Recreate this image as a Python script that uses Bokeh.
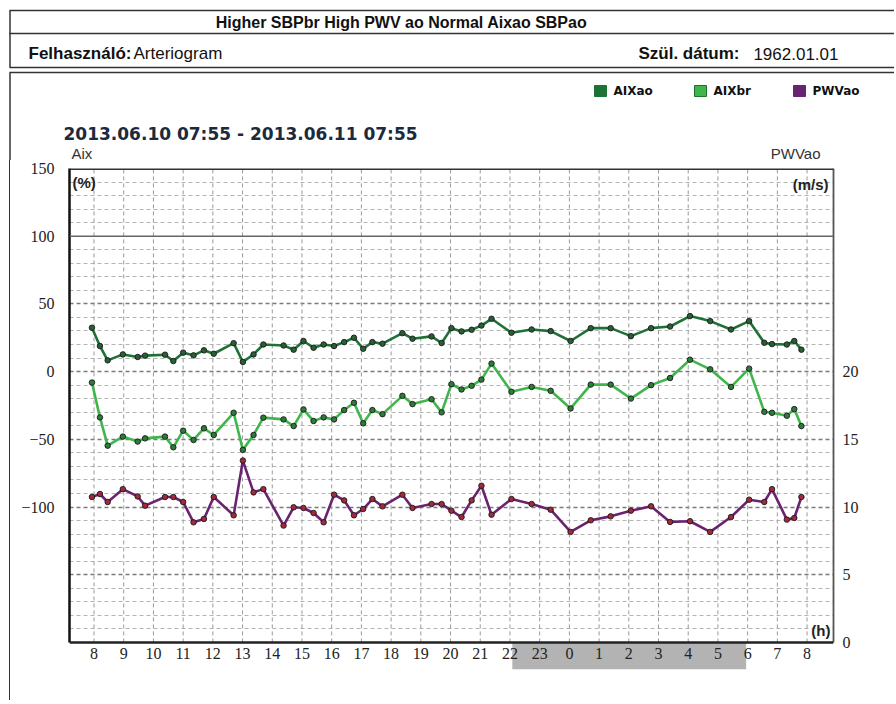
from bokeh.plotting import figure
from bokeh.models import (Range1d, LinearAxis, FixedTicker, Span, Label, Grid, Spacer)
from bokeh.layouts import column, row
from bokeh.embed import file_html
from bokeh.resources import INLINE
from bokeh.core.properties import value

# ---------------- data ----------------
# time of each measurement in hours since 00:00 of 2013.06.10 (24+ = next day)
times = [7.93, 8.20, 8.46, 8.97, 9.47, 9.72, 10.39, 10.67, 11.00, 11.35, 11.70, 12.03,
         12.70, 13.01, 13.37, 13.70, 14.38, 14.72, 15.05, 15.39, 15.73, 16.08, 16.42,
         16.75, 17.06, 17.37, 17.71, 18.38, 18.72, 19.36, 19.70, 20.03, 20.37, 20.71,
         21.04, 21.38, 22.05, 22.73, 23.37, 24.04, 24.72, 25.39, 26.07, 26.75, 27.39,
         28.06, 28.74, 29.44, 30.05, 30.56, 30.82, 31.32, 31.57, 31.81]
aix_ao = [32.4, 18.9, 8.3, 12.7, 10.8, 11.8, 12.5, 7.8, 14.0, 12.0, 15.7, 13.2, 21.0, 7.1,
          12.7, 20.0, 19.3, 16.2, 22.6, 17.6, 20.0, 18.9, 21.8, 25.0, 16.9, 21.8, 20.6,
          28.4, 24.3, 26.0, 21.1, 32.1, 29.7, 30.9, 34.0, 39.0, 28.7, 31.1, 29.9, 22.6,
          32.1, 32.1, 26.2, 32.1, 33.3, 41.0, 37.3, 31.1, 37.3, 21.3, 20.3, 20.0, 22.6, 16.2]
aix_br = [-8.1, -33.8, -54.7, -48.0, -51.7, -49.3, -48.0, -55.9, -43.6, -50.5, -41.9, -46.8,
          -30.4, -57.8, -46.8, -34.0, -35.3, -40.2, -27.9, -36.5, -33.8, -35.3, -28.4, -23.0,
          -38.2, -28.4, -31.4, -17.9, -24.0, -20.4, -30.1, -9.3, -13.2, -10.5, -5.9, 5.9,
          -14.9, -11.3, -14.2, -27.2, -9.6, -9.6, -19.9, -10.0, -4.7, 8.8, 1.7, -11.3, 2.2,
          -29.7, -30.4, -32.6, -27.7, -40.2]
pwv_ao = [10.74, 10.96, 10.37, 11.32, 10.78, 10.10, 10.74, 10.74, 10.37, 8.87, 9.12, 10.74,
          9.39, 13.43, 11.08, 11.32, 8.63, 9.98, 9.93, 9.56, 8.87, 10.91, 10.49, 9.39, 9.85,
          10.59, 10.05, 10.91, 9.93, 10.22, 10.22, 9.73, 9.26, 10.49, 11.57, 9.43, 10.59,
          10.22, 9.80, 8.16, 9.02, 9.31, 9.73, 10.05, 8.90, 8.95, 8.16, 9.26, 10.54, 10.37,
          11.32, 9.07, 9.19, 10.74]

series_names = ["AIXao", "AIXbr", "PWVao"]
series_colors = ["#1e7236", "#3fb64b", "#6a2371"]
legend_borders = ["#1e7236", "#22702e", "#6a2371"]
marker_fills = ["#2b5e36", "#2f7a3a", "#a3283a"]

hour_ticks = list(range(8, 33))
hour_labels = [str(h % 24) for h in hour_ticks]
left_ticks = [-100, -50, 0, 50, 100, 150]
right_ticks = [0, 5, 10, 15, 20]
night_start, night_end = 22.08, 29.95

title_text = "Higher SBPbr High PWV ao Normal Aixao SBPao"
user_label, user_name = "Felhasználó:", "Arteriogram"
birth_label, birth_date = "Szül. dátum:", "1962.01.01"
period_text = "2013.06.10 07:55 - 2013.06.11 07:55"

SANS = value("Liberation Sans")
DEJAVU = value("DejaVu Sans")

# ---------------- header figure (data coords = page pixels, y negated) ----------------
W = 894
HDR_H = 160
hdr = figure(width=W, height=HDR_H, x_range=Range1d(0, W), y_range=Range1d(-HDR_H, 0),
             output_backend="svg", toolbar_location=None, min_border=0,
             x_axis_type=None, y_axis_type=None, outline_line_color=None)
hdr.grid.visible = False

hy = [10, 33, 67, 72]
hdr.segment(x0=[9] * 4, y0=[-v for v in hy], x1=[W] * 4, y1=[-v for v in hy],
            line_color="#333333", line_width=1.5)
hdr.segment(x0=[9.5, 9.5], y0=[-10, -72], x1=[9.5, 9.5], y1=[-67, -HDR_H],
            line_color="#333333", line_width=1.5)


def htext(x, y, text, size="16px", bold=False, align="left", font=SANS, color="#111111"):
    hdr.text(x=[x], y=[-y], text=[text], text_font=font, text_font_size=size,
             text_font_style="bold" if bold else "normal", text_align=align,
             text_baseline="middle", text_color=color)


htext(401, 21.5, title_text, size="16px", bold=True, align="center")
htext(28, 53, user_label, size="17px", bold=True)
htext(133, 53, user_name, size="17px")
htext(739, 53, birth_label, size="17px", bold=True, align="right")
htext(838, 53, birth_date, size="17px", align="right")

legend_x = [594, 694, 793]
hdr.quad(left=legend_x, right=[x + 12 for x in legend_x], top=[-85] * 3, bottom=[-96] * 3,
         fill_color=series_colors, line_color=legend_borders, line_width=1)
hdr.text(x=[x + 19 for x in legend_x], y=[-90.5] * 3, text=series_names, text_font=DEJAVU,
         text_font_style="bold", text_font_size="12px", text_baseline="middle",
         text_color="#111111")

htext(63, 133, period_text, size="17px", bold=True, font=DEJAVU, color="#1c2a3e")
htext(71, 152.5, "Aix", size="15px", color="#333333")
htext(820, 152.5, "PWVao", size="15px", color="#333333", align="right")

# ---------------- chart figure ----------------
CH_W = 884           # chart canvas starts 10 px right of the page edge
CH_H = 540
X0, X1 = 7.175, 32.89
Y0, Y1 = -220, 150
p = figure(width=CH_W, height=CH_H, x_range=Range1d(X0, X1), y_range=Range1d(Y0, Y1),
           output_backend="svg", toolbar_location=None,
           min_border_left=59, min_border_right=61, min_border_top=8, min_border_bottom=31,
           x_axis_type=None, y_axis_type=None, outline_line_color=None)
# PWV (m/s) = 20 + Aix(%) / 10
p.extra_y_ranges = {"pwv": Range1d(20 + Y0 / 10, 20 + Y1 / 10)}

xaxis = LinearAxis(ticker=FixedTicker(ticks=hour_ticks),
                   major_label_overrides={h: l for h, l in zip(hour_ticks, hour_labels)})
yaxis = LinearAxis(ticker=FixedTicker(ticks=left_ticks), bounds=(-200, 150))
raxis = LinearAxis(y_range_name="pwv", ticker=FixedTicker(ticks=right_ticks), bounds=(0, 35))
for ax in (xaxis, yaxis, raxis):
    ax.major_tick_line_color = None
    ax.minor_tick_line_color = None
    ax.major_label_text_font = "Liberation Sans Narrow"
    ax.major_label_text_font_size = "16px"
    ax.major_label_text_color = "#222222"
xaxis.axis_line_color = None
xaxis.major_label_standoff = -28
yaxis.axis_line_color = "#111111"
yaxis.axis_line_width = 2.5
yaxis.major_label_standoff = 9
raxis.axis_line_color = "#555555"
raxis.axis_line_width = 1.8
raxis.major_label_standoff = 3
p.add_layout(xaxis, "below")
p.add_layout(yaxis, "left")
p.add_layout(raxis, "right")

hgrid = Grid(dimension=1,
             ticker=FixedTicker(ticks=[-150, -100, -50, 0, 50],
                                minor_ticks=[v for v in range(-190, 150, 10) if v % 50 != 0]),
             grid_line_color="#7a7a7a", grid_line_dash="4 3", grid_line_width=1.3,
             minor_grid_line_color="#b5b5b5", minor_grid_line_dash="4 3", minor_grid_line_width=1)
p.add_layout(hgrid)
# hourly vertical grid lines, only over the chart area (not over the night band row)
p.segment(x0=hour_ticks, y0=[-200] * len(hour_ticks), x1=hour_ticks, y1=[150] * len(hour_ticks),
          line_color="#9a9a9a", line_dash="4 3", line_width=1)

# night period band under the time labels
p.quad(left=[night_start], right=[night_end], top=[-200], bottom=[Y0],
       fill_color="#b3b3b3", line_color=None)

p.add_layout(Span(location=100, dimension="width", line_color="#666666", line_width=1.6))
p.add_layout(Span(location=-200, dimension="width", line_color="#222222", line_width=2.5))
p.add_layout(Span(location=150, dimension="width", line_color="#333333", line_width=3))

for ys, col, mf, rng in [(aix_ao, series_colors[0], marker_fills[0], "default"),
                         (aix_br, series_colors[1], marker_fills[1], "default"),
                         (pwv_ao, series_colors[2], marker_fills[2], "pwv")]:
    p.line(times, ys, line_color=col, line_width=2.6, y_range_name=rng)
    p.scatter(times, ys, size=5.5, fill_color=mf, line_color="#1a1a1a", line_width=0.9,
              y_range_name=rng)

p.add_layout(Label(x=X0, y=150, x_offset=3, y_offset=-5, text="(%)", text_font="Liberation Sans",
                   text_font_style="bold", text_font_size="15px", text_baseline="top",
                   text_color="#222222"))
p.add_layout(Label(x=X1, y=150, x_offset=-5, y_offset=-7, text="(m/s)", text_font="Liberation Sans",
                   text_font_style="bold", text_font_size="15px", text_baseline="top",
                   text_align="right", text_color="#222222"))
p.add_layout(Label(x=X1, y=-200, x_offset=-3, y_offset=3, text="(h)", text_font="Liberation Sans",
                   text_font_style="bold", text_font_size="15px", text_baseline="bottom",
                   text_align="right", text_color="#222222"))

left_gap = Spacer(width=9, height=CH_H)
left_rule = Spacer(width=1, height=CH_H, styles={"background-color": "#333333"})

layout = column(row(hdr), row(left_gap, left_rule, p))
open("out.html", "w").write(file_html(layout, INLINE))
